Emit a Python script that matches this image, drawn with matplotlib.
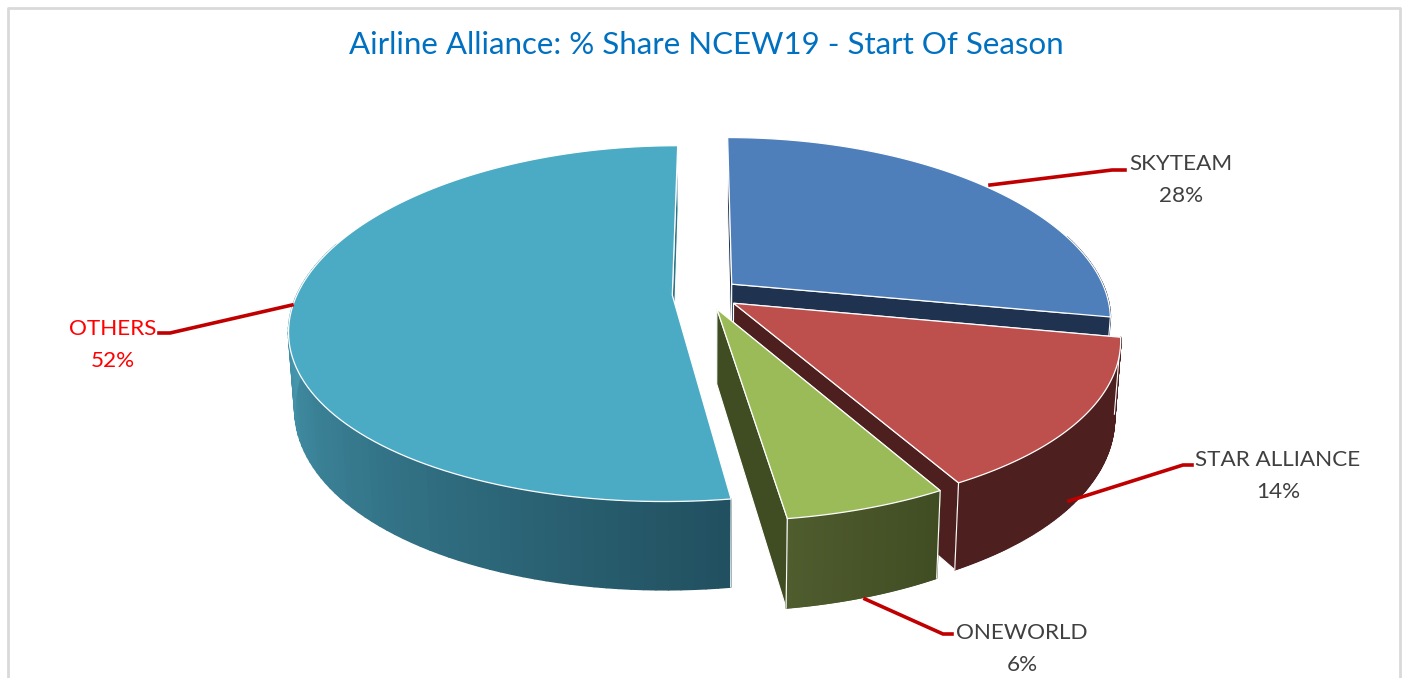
import numpy as np
import matplotlib
matplotlib.use('Agg')
import matplotlib.pyplot as plt
from matplotlib.collections import PolyCollection
from matplotlib.colors import to_rgb
from matplotlib.patches import Polygon

plt.rcParams['font.family'] = ['Lato', 'DejaVu Sans']

title = 'Airline Alliance: % Share NCEW19 - Start Of Season'
alliances = ['SKYTEAM', 'STAR ALLIANCE', 'ONEWORLD', 'OTHERS']
shares = [28.0, 14.0, 5.7, 52.3]

top_colors = ['#4f7fba', '#bd4f4c', '#9bbb59', '#4babc5']
cut_colors = ['#1f3350', '#4d1f1f', '#404c22', '#2f7488']
side_start = ['#1f3350', '#4d1f1f', '#404c22', '#215060']
side_end = ['#1f3350', '#4d1f1f', '#4f5c2e', '#4596ad']
side_span = [1, 1, 1, 0.5]
label_colors = ['#404040', '#404040', '#404040', '#ff0000']

label_pos = [(1181, 180), (1278, 476), (1022, 649), (113, 345)]
leaders = [
    [(990, 185), (1112, 170), (1125, 170)],
    [(1069, 501), (1183, 465), (1192, 465)],
    [(865, 599), (943, 634), (952, 634)],
    [(292, 305), (170, 333), (159, 333)],
]

# pie geometry, in pixels of the figure
cx, cy = 706, 294
a, b = 375, 173
kx, ky = 0.19, 0.16
depth = 74
explode = 0.09


def project(theta, r, ou, ov, z=0.0):
    t = np.radians(theta)
    u = ou + r * np.sin(t)
    v = ov - r * np.cos(t)
    x = cx + a * u / (1 - kx * v) * (1 - 0.015 * z)
    y = cy + (b * v + depth * z) / (1 - ky * v)
    return np.column_stack([x, y])


fig = plt.figure(figsize=(14.07, 6.78), dpi=100)
ax = fig.add_axes([0, 0, 1, 1])
ax.set_xlim(0, 1407)
ax.set_ylim(678, 0)
ax.axis('off')

ax.plot([8, 8, 1400, 1400], [678, 7.5, 7.5, 678], color='#d9d9d9', lw=2)
ax.text(706, 45, title, color='#0070c0', fontsize=22.5, ha='center', va='center')

edges = np.cumsum([0] + shares) / sum(shares) * 360

layer = 3
for i in range(len(shares)):
    start, end = edges[i], edges[i + 1]
    mid = np.radians((start + end) / 2)
    ou, ov = explode * np.sin(mid), -explode * np.cos(mid)
    thetas = np.linspace(start, end, 121)

    # cut faces
    for th in (start, end):
        top = project(np.array([0, th]), np.array([0, 1]), ou, ov)
        bottom = project(np.array([0, th]), np.array([0, 1]), ou, ov, 1)
        ax.add_patch(Polygon(np.vstack([top, bottom[::-1]]), fc=cut_colors[i],
                             ec='white', lw=0.8, zorder=layer))
    layer += 1

    # outer wall, one quad per step so the shade can change along it
    upper = project(thetas, 1, ou, ov)
    lower = project(thetas, 1, ou, ov, 1)
    quads = [[upper[j], upper[j + 1], lower[j + 1], lower[j]] for j in range(len(thetas) - 1)]
    frac = np.clip(np.linspace(0, 1, len(quads)) / side_span[i], 0, 1)[:, None]
    shades = np.array(to_rgb(side_start[i])) * (1 - frac) + np.array(to_rgb(side_end[i])) * frac
    # the rear of the wall is hidden by the top face, leave it out
    front = np.cos(np.radians(thetas[:-1])) < 0.3
    ax.add_collection(PolyCollection([q for q, f in zip(quads, front) if f],
                                     facecolors=shades[front], edgecolors=shades[front],
                                     linewidths=1.2, zorder=layer))
    layer += 1
    for k in (0, -1):
        if np.cos(np.radians(thetas[k])) < 0.3:
            ax.plot([upper[k, 0], lower[k, 0]], [upper[k, 1], lower[k, 1]], color='white',
                    lw=0.8, zorder=layer)
    layer += 1

    # top face
    apex = project(np.array([0.0]), 0, ou, ov)
    ax.add_patch(Polygon(np.vstack([apex, upper]), fc=top_colors[i], ec='white', lw=0.9, zorder=layer))
    layer += 1

for i, name in enumerate(alliances):
    pts = np.array(leaders[i])
    ax.plot(pts[:, 0], pts[:, 1], color='#c00000', lw=2.6, solid_joinstyle='miter', zorder=layer)
    ax.text(label_pos[i][0], label_pos[i][1], f'{name}\n{round(shares[i])}%', color=label_colors[i],
            fontsize=16.2, ha='center', va='center', linespacing=1.7, clip_on=False, zorder=layer)

fig.savefig('out.png', dpi=100)
